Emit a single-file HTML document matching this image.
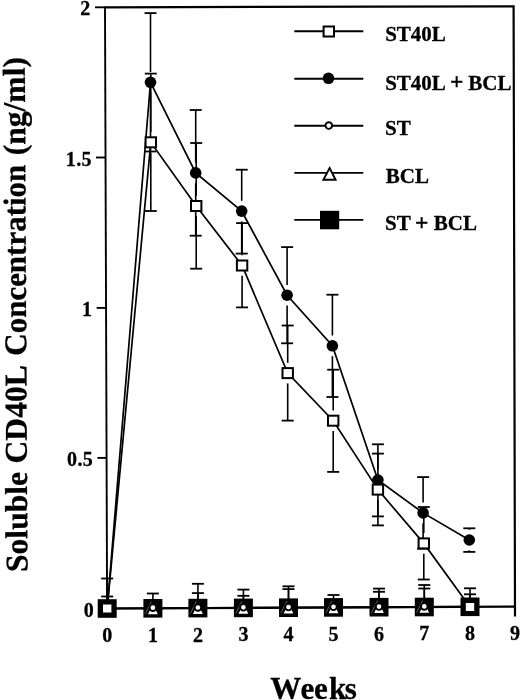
<!DOCTYPE html>
<html><head><meta charset="utf-8"><style>
html,body{margin:0;padding:0;background:#fff;width:520px;height:700px;overflow:hidden}
svg{display:block;will-change:transform}
text{font-family:"Liberation Serif",serif;font-weight:bold;stroke:#000;stroke-width:0.3px}
</style></head><body>
<svg width="520" height="700" viewBox="0 0 520 700">
<rect width="520" height="700" fill="#fff"/>
<path d="M104.6 7.3 L513.6 6.3 L515.0 616.5" fill="none" stroke="#000" stroke-width="2.2"/>
<line x1="105.0" y1="6.4" x2="107.1" y2="609.5" stroke="#000" stroke-width="1.9"/>
<line x1="107.1" y1="608.5" x2="515.0" y2="606.6" stroke="#000" stroke-width="2.2"/>
<line x1="95.0" y1="7.3" x2="104.7" y2="7.3" stroke="#000" stroke-width="1.9"/>
<line x1="96.0" y1="157.5" x2="105.5" y2="157.5" stroke="#000" stroke-width="1.9"/>
<line x1="96.7" y1="307.9" x2="106.2" y2="307.9" stroke="#000" stroke-width="1.9"/>
<line x1="97.4" y1="457.9" x2="106.8" y2="457.9" stroke="#000" stroke-width="1.9"/>
<text x="90.2" y="14.8" font-family="Liberation Serif" font-weight="bold" font-size="20" text-anchor="end">2</text>
<text x="92.0" y="165.8" font-family="Liberation Serif" font-weight="bold" font-size="20" text-anchor="end" letter-spacing="0.4">1.5</text>
<text x="92.0" y="316.0" font-family="Liberation Serif" font-weight="bold" font-size="20" text-anchor="end">1</text>
<text x="93.2" y="466.0" font-family="Liberation Serif" font-weight="bold" font-size="20" text-anchor="end" letter-spacing="0.4">0.5</text>
<text x="93.8" y="616.8" font-family="Liberation Serif" font-weight="bold" font-size="20" text-anchor="end">0</text>
<text x="107.3" y="642.20" font-family="Liberation Serif" font-weight="bold" font-size="20" text-anchor="middle">0</text>
<text x="153.0" y="641.93" font-family="Liberation Serif" font-weight="bold" font-size="20" text-anchor="middle">1</text>
<text x="198.0" y="641.67" font-family="Liberation Serif" font-weight="bold" font-size="20" text-anchor="middle">2</text>
<text x="243.4" y="641.41" font-family="Liberation Serif" font-weight="bold" font-size="20" text-anchor="middle">3</text>
<text x="288.5" y="641.15" font-family="Liberation Serif" font-weight="bold" font-size="20" text-anchor="middle">4</text>
<text x="333.5" y="640.89" font-family="Liberation Serif" font-weight="bold" font-size="20" text-anchor="middle">5</text>
<text x="379.0" y="640.62" font-family="Liberation Serif" font-weight="bold" font-size="20" text-anchor="middle">6</text>
<text x="424.3" y="640.36" font-family="Liberation Serif" font-weight="bold" font-size="20" text-anchor="middle">7</text>
<text x="470.0" y="640.09" font-family="Liberation Serif" font-weight="bold" font-size="20" text-anchor="middle">8</text>
<text x="515.0" y="639.83" font-family="Liberation Serif" font-weight="bold" font-size="20" text-anchor="middle">9</text>
<text x="270.2 300.6 314.1 329.0 344.8" y="699" font-family="Liberation Serif" font-weight="bold" font-size="31">Weeks</text>
<g transform="translate(27.4,571) rotate(-90.3)">
<text x="-1.0" y="0" font-family="Liberation Serif" font-weight="bold" font-size="31.6">Soluble</text>
<text x="107.5" y="0" font-family="Liberation Serif" font-weight="bold" font-size="31.6">CD40L</text>
<text x="215.3" y="0" font-family="Liberation Serif" font-weight="bold" font-size="31.6" textLength="191.0" lengthAdjust="spacingAndGlyphs">Concentration</text>
<text x="415.7" y="0" font-family="Liberation Serif" font-weight="bold" font-size="31.6">(ng/ml)</text>
</g>
<line x1="107.2" y1="578.5" x2="107.2" y2="608.5" stroke="#000" stroke-width="1.6"/>
<line x1="101.2" y1="578.5" x2="113.2" y2="578.5" stroke="#000" stroke-width="1.8"/>
<line x1="107.2" y1="596.5" x2="107.2" y2="608.5" stroke="#000" stroke-width="1.6"/>
<line x1="101.2" y1="596.5" x2="113.2" y2="596.5" stroke="#000" stroke-width="1.8"/>
<line x1="152.9" y1="593.5" x2="152.9" y2="608.3" stroke="#000" stroke-width="1.6"/>
<line x1="146.9" y1="593.5" x2="158.9" y2="593.5" stroke="#000" stroke-width="1.8"/>
<line x1="197.9" y1="583.8" x2="197.9" y2="608.1" stroke="#000" stroke-width="1.6"/>
<line x1="191.9" y1="583.8" x2="203.9" y2="583.8" stroke="#000" stroke-width="1.8"/>
<line x1="197.9" y1="593.1" x2="197.9" y2="608.1" stroke="#000" stroke-width="1.6"/>
<line x1="191.9" y1="593.1" x2="203.9" y2="593.1" stroke="#000" stroke-width="1.8"/>
<line x1="243.4" y1="589.6" x2="243.4" y2="607.9" stroke="#000" stroke-width="1.6"/>
<line x1="237.4" y1="589.6" x2="249.4" y2="589.6" stroke="#000" stroke-width="1.8"/>
<line x1="243.4" y1="595.8" x2="243.4" y2="607.9" stroke="#000" stroke-width="1.6"/>
<line x1="237.4" y1="595.8" x2="249.4" y2="595.8" stroke="#000" stroke-width="1.8"/>
<line x1="288.5" y1="586.3" x2="288.5" y2="607.7" stroke="#000" stroke-width="1.6"/>
<line x1="282.5" y1="586.3" x2="294.5" y2="586.3" stroke="#000" stroke-width="1.8"/>
<line x1="288.5" y1="589.1" x2="288.5" y2="607.7" stroke="#000" stroke-width="1.6"/>
<line x1="282.5" y1="589.1" x2="294.5" y2="589.1" stroke="#000" stroke-width="1.8"/>
<line x1="333.5" y1="595.0" x2="333.5" y2="607.4" stroke="#000" stroke-width="1.6"/>
<line x1="327.5" y1="595.0" x2="339.5" y2="595.0" stroke="#000" stroke-width="1.8"/>
<line x1="379.0" y1="588.6" x2="379.0" y2="607.2" stroke="#000" stroke-width="1.6"/>
<line x1="373.0" y1="588.6" x2="385.0" y2="588.6" stroke="#000" stroke-width="1.8"/>
<line x1="379.0" y1="591.8" x2="379.0" y2="607.2" stroke="#000" stroke-width="1.6"/>
<line x1="373.0" y1="591.8" x2="385.0" y2="591.8" stroke="#000" stroke-width="1.8"/>
<line x1="424.3" y1="585.0" x2="424.3" y2="607.0" stroke="#000" stroke-width="1.6"/>
<line x1="418.3" y1="585.0" x2="430.3" y2="585.0" stroke="#000" stroke-width="1.8"/>
<line x1="424.3" y1="588.5" x2="424.3" y2="607.0" stroke="#000" stroke-width="1.6"/>
<line x1="418.3" y1="588.5" x2="430.3" y2="588.5" stroke="#000" stroke-width="1.8"/>
<line x1="470.0" y1="588.3" x2="470.0" y2="606.8" stroke="#000" stroke-width="1.6"/>
<line x1="464.0" y1="588.3" x2="476.0" y2="588.3" stroke="#000" stroke-width="1.8"/>
<line x1="470.0" y1="594.3" x2="470.0" y2="606.8" stroke="#000" stroke-width="1.6"/>
<line x1="464.0" y1="594.3" x2="476.0" y2="594.3" stroke="#000" stroke-width="1.8"/>
<line x1="107.2" y1="608.5" x2="470.0" y2="606.8" stroke="#000" stroke-width="2.0"/>
<rect x="97.7" y="599.2" width="19" height="18.6" fill="#000"/>
<rect x="143.4" y="599.0" width="19" height="18.6" fill="#000"/>
<rect x="188.4" y="598.8" width="19" height="18.6" fill="#000"/>
<rect x="233.9" y="598.6" width="19" height="18.6" fill="#000"/>
<rect x="279.0" y="598.4" width="19" height="18.6" fill="#000"/>
<rect x="324.0" y="598.1" width="19" height="18.6" fill="#000"/>
<rect x="369.5" y="597.9" width="19" height="18.6" fill="#000"/>
<rect x="414.8" y="597.7" width="19" height="18.6" fill="#000"/>
<rect x="460.5" y="597.5" width="19" height="18.6" fill="#000"/>
<path d="M152.9 602.0 L159.3 615.1 L146.5 615.1 Z" fill="#fff" stroke="#000" stroke-width="1.9"/>
<path d="M197.9 601.8 L204.3 614.9 L191.5 614.9 Z" fill="#fff" stroke="#000" stroke-width="1.9"/>
<path d="M243.4 601.6 L249.8 614.7 L237.0 614.7 Z" fill="#fff" stroke="#000" stroke-width="1.9"/>
<path d="M288.5 601.4 L294.9 614.5 L282.1 614.5 Z" fill="#fff" stroke="#000" stroke-width="1.9"/>
<path d="M333.5 601.1 L339.9 614.2 L327.1 614.2 Z" fill="#fff" stroke="#000" stroke-width="1.9"/>
<path d="M379.0 600.9 L385.4 614.0 L372.6 614.0 Z" fill="#fff" stroke="#000" stroke-width="1.9"/>
<path d="M424.3 600.7 L430.7 613.8 L417.9 613.8 Z" fill="#fff" stroke="#000" stroke-width="1.9"/>
<line x1="145.3" y1="613.8" x2="151.3" y2="601.7" stroke="#fff" stroke-width="0.7" stroke-opacity="0.55"/>
<line x1="190.3" y1="613.6" x2="196.3" y2="601.5" stroke="#fff" stroke-width="0.7" stroke-opacity="0.55"/>
<line x1="235.8" y1="613.4" x2="241.8" y2="601.3" stroke="#fff" stroke-width="0.7" stroke-opacity="0.55"/>
<line x1="280.9" y1="613.2" x2="286.9" y2="601.1" stroke="#fff" stroke-width="0.7" stroke-opacity="0.55"/>
<line x1="325.9" y1="612.9" x2="331.9" y2="600.8" stroke="#fff" stroke-width="0.7" stroke-opacity="0.55"/>
<line x1="371.4" y1="612.7" x2="377.4" y2="600.6" stroke="#fff" stroke-width="0.7" stroke-opacity="0.55"/>
<line x1="416.7" y1="612.5" x2="422.7" y2="600.4" stroke="#fff" stroke-width="0.7" stroke-opacity="0.55"/>
<circle cx="152.9" cy="607.7" r="3.3" fill="#fff" stroke="#000" stroke-width="1.9"/>
<circle cx="197.9" cy="607.5" r="3.3" fill="#fff" stroke="#000" stroke-width="1.9"/>
<circle cx="243.4" cy="607.3" r="3.3" fill="#fff" stroke="#000" stroke-width="1.9"/>
<circle cx="288.5" cy="607.1" r="3.3" fill="#fff" stroke="#000" stroke-width="1.9"/>
<circle cx="333.5" cy="606.8" r="3.3" fill="#fff" stroke="#000" stroke-width="1.9"/>
<circle cx="379.0" cy="606.6" r="3.3" fill="#fff" stroke="#000" stroke-width="1.9"/>
<circle cx="424.3" cy="606.4" r="3.3" fill="#fff" stroke="#000" stroke-width="1.9"/>
<line x1="150.5" y1="13.1" x2="150.5" y2="72.0" stroke="#000" stroke-width="1.6"/>
<line x1="150.5" y1="92.6" x2="150.5" y2="151.5" stroke="#000" stroke-width="1.6"/>
<line x1="144.5" y1="13.1" x2="156.5" y2="13.1" stroke="#000" stroke-width="1.8"/>
<line x1="144.5" y1="151.5" x2="156.5" y2="151.5" stroke="#000" stroke-width="1.8"/>
<line x1="195.7" y1="110.0" x2="195.7" y2="162.6" stroke="#000" stroke-width="1.6"/>
<line x1="195.7" y1="183.2" x2="195.7" y2="235.7" stroke="#000" stroke-width="1.6"/>
<line x1="189.7" y1="110.0" x2="201.7" y2="110.0" stroke="#000" stroke-width="1.8"/>
<line x1="189.7" y1="235.7" x2="201.7" y2="235.7" stroke="#000" stroke-width="1.8"/>
<line x1="241.7" y1="169.7" x2="241.7" y2="200.8" stroke="#000" stroke-width="1.6"/>
<line x1="241.7" y1="221.4" x2="241.7" y2="253.6" stroke="#000" stroke-width="1.6"/>
<line x1="235.7" y1="169.7" x2="247.7" y2="169.7" stroke="#000" stroke-width="1.8"/>
<line x1="235.7" y1="253.6" x2="247.7" y2="253.6" stroke="#000" stroke-width="1.8"/>
<line x1="287.1" y1="247.1" x2="287.1" y2="284.9" stroke="#000" stroke-width="1.6"/>
<line x1="287.1" y1="305.5" x2="287.1" y2="343.3" stroke="#000" stroke-width="1.6"/>
<line x1="281.1" y1="247.1" x2="293.1" y2="247.1" stroke="#000" stroke-width="1.8"/>
<line x1="281.1" y1="343.3" x2="293.1" y2="343.3" stroke="#000" stroke-width="1.8"/>
<line x1="332.4" y1="294.7" x2="332.4" y2="335.5" stroke="#000" stroke-width="1.6"/>
<line x1="332.4" y1="356.1" x2="332.4" y2="397.0" stroke="#000" stroke-width="1.6"/>
<line x1="326.4" y1="294.7" x2="338.4" y2="294.7" stroke="#000" stroke-width="1.8"/>
<line x1="326.4" y1="397.0" x2="338.4" y2="397.0" stroke="#000" stroke-width="1.8"/>
<line x1="377.9" y1="444.3" x2="377.9" y2="469.7" stroke="#000" stroke-width="1.6"/>
<line x1="377.9" y1="490.3" x2="377.9" y2="516.4" stroke="#000" stroke-width="1.6"/>
<line x1="371.9" y1="444.3" x2="383.9" y2="444.3" stroke="#000" stroke-width="1.8"/>
<line x1="371.9" y1="516.4" x2="383.9" y2="516.4" stroke="#000" stroke-width="1.8"/>
<line x1="423.1" y1="477.1" x2="423.1" y2="502.6" stroke="#000" stroke-width="1.6"/>
<line x1="423.1" y1="523.2" x2="423.1" y2="548.7" stroke="#000" stroke-width="1.6"/>
<line x1="417.1" y1="477.1" x2="429.1" y2="477.1" stroke="#000" stroke-width="1.8"/>
<line x1="417.1" y1="548.7" x2="429.1" y2="548.7" stroke="#000" stroke-width="1.8"/>
<line x1="469.3" y1="528.3" x2="469.3" y2="529.7" stroke="#000" stroke-width="1.6"/>
<line x1="469.3" y1="550.3" x2="469.3" y2="551.9" stroke="#000" stroke-width="1.6"/>
<line x1="463.3" y1="528.3" x2="475.3" y2="528.3" stroke="#000" stroke-width="1.8"/>
<line x1="463.3" y1="551.9" x2="475.3" y2="551.9" stroke="#000" stroke-width="1.8"/>
<polyline points="107.2,608.5 150.5,82.3 195.7,172.9 241.7,211.1 287.1,295.2 332.4,345.8 377.9,480.0 423.1,512.9 469.3,540.0" fill="none" stroke="#000" stroke-width="1.7"/>
<circle cx="150.5" cy="82.3" r="5.8" fill="#000"/>
<circle cx="195.7" cy="172.9" r="5.8" fill="#000"/>
<circle cx="241.7" cy="211.1" r="5.8" fill="#000"/>
<circle cx="287.1" cy="295.2" r="5.8" fill="#000"/>
<circle cx="332.4" cy="345.8" r="5.8" fill="#000"/>
<circle cx="377.9" cy="480.0" r="5.8" fill="#000"/>
<circle cx="423.1" cy="512.9" r="5.8" fill="#000"/>
<circle cx="469.3" cy="540.0" r="5.8" fill="#000"/>
<line x1="150.8" y1="73.6" x2="150.8" y2="132.0" stroke="#000" stroke-width="1.6"/>
<line x1="150.8" y1="152.6" x2="150.8" y2="211.0" stroke="#000" stroke-width="1.6"/>
<line x1="144.8" y1="73.6" x2="156.8" y2="73.6" stroke="#000" stroke-width="1.8"/>
<line x1="144.8" y1="211.0" x2="156.8" y2="211.0" stroke="#000" stroke-width="1.8"/>
<line x1="196.2" y1="143.0" x2="196.2" y2="195.7" stroke="#000" stroke-width="1.6"/>
<line x1="196.2" y1="216.3" x2="196.2" y2="268.7" stroke="#000" stroke-width="1.6"/>
<line x1="190.2" y1="143.0" x2="202.2" y2="143.0" stroke="#000" stroke-width="1.8"/>
<line x1="190.2" y1="268.7" x2="202.2" y2="268.7" stroke="#000" stroke-width="1.8"/>
<line x1="242.1" y1="223.1" x2="242.1" y2="255.2" stroke="#000" stroke-width="1.6"/>
<line x1="242.1" y1="275.8" x2="242.1" y2="307.4" stroke="#000" stroke-width="1.6"/>
<line x1="236.1" y1="223.1" x2="248.1" y2="223.1" stroke="#000" stroke-width="1.8"/>
<line x1="236.1" y1="307.4" x2="248.1" y2="307.4" stroke="#000" stroke-width="1.8"/>
<line x1="287.7" y1="325.5" x2="287.7" y2="362.8" stroke="#000" stroke-width="1.6"/>
<line x1="287.7" y1="383.4" x2="287.7" y2="420.6" stroke="#000" stroke-width="1.6"/>
<line x1="281.7" y1="325.5" x2="293.7" y2="325.5" stroke="#000" stroke-width="1.8"/>
<line x1="281.7" y1="420.6" x2="293.7" y2="420.6" stroke="#000" stroke-width="1.8"/>
<line x1="333.2" y1="369.7" x2="333.2" y2="410.4" stroke="#000" stroke-width="1.6"/>
<line x1="333.2" y1="431.0" x2="333.2" y2="471.9" stroke="#000" stroke-width="1.6"/>
<line x1="327.2" y1="369.7" x2="339.2" y2="369.7" stroke="#000" stroke-width="1.8"/>
<line x1="327.2" y1="471.9" x2="339.2" y2="471.9" stroke="#000" stroke-width="1.8"/>
<line x1="377.9" y1="453.6" x2="377.9" y2="479.3" stroke="#000" stroke-width="1.6"/>
<line x1="377.9" y1="499.9" x2="377.9" y2="525.4" stroke="#000" stroke-width="1.6"/>
<line x1="371.9" y1="453.6" x2="383.9" y2="453.6" stroke="#000" stroke-width="1.8"/>
<line x1="371.9" y1="525.4" x2="383.9" y2="525.4" stroke="#000" stroke-width="1.8"/>
<line x1="423.8" y1="507.0" x2="423.8" y2="533.1" stroke="#000" stroke-width="1.6"/>
<line x1="423.8" y1="553.7" x2="423.8" y2="579.5" stroke="#000" stroke-width="1.6"/>
<line x1="417.8" y1="507.0" x2="429.8" y2="507.0" stroke="#000" stroke-width="1.8"/>
<line x1="417.8" y1="579.5" x2="429.8" y2="579.5" stroke="#000" stroke-width="1.8"/>
<polyline points="107.2,608.5 150.8,142.3 196.2,206.0 242.1,265.5 287.7,373.1 333.2,420.7 377.9,489.6 423.8,543.4 470.0,607.0" fill="none" stroke="#000" stroke-width="1.7"/>
<rect x="102.0" y="603.5" width="10.4" height="10" fill="#fff" stroke="#000" stroke-width="2"/>
<rect x="145.6" y="137.3" width="10.4" height="10" fill="#fff" stroke="#000" stroke-width="2"/>
<rect x="191.0" y="201.0" width="10.4" height="10" fill="#fff" stroke="#000" stroke-width="2"/>
<rect x="236.9" y="260.5" width="10.4" height="10" fill="#fff" stroke="#000" stroke-width="2"/>
<rect x="282.5" y="368.1" width="10.4" height="10" fill="#fff" stroke="#000" stroke-width="2"/>
<rect x="328.0" y="415.7" width="10.4" height="10" fill="#fff" stroke="#000" stroke-width="2"/>
<rect x="372.7" y="484.6" width="10.4" height="10" fill="#fff" stroke="#000" stroke-width="2"/>
<rect x="418.6" y="538.4" width="10.4" height="10" fill="#fff" stroke="#000" stroke-width="2"/>
<rect x="464.8" y="602.0" width="10.4" height="10" fill="#fff" stroke="#000" stroke-width="2"/>
<line x1="294.3" y1="31.2" x2="363.3" y2="31.2" stroke="#000" stroke-width="1.9"/>
<line x1="294.3" y1="78.8" x2="363.3" y2="78.8" stroke="#000" stroke-width="1.9"/>
<line x1="294.3" y1="125.8" x2="363.3" y2="125.8" stroke="#000" stroke-width="1.9"/>
<line x1="294.3" y1="172.9" x2="363.3" y2="172.9" stroke="#000" stroke-width="1.9"/>
<line x1="294.3" y1="219.9" x2="363.3" y2="219.9" stroke="#000" stroke-width="1.9"/>
<rect x="323.6" y="26.5" width="10.4" height="10" fill="#fff" stroke="#000" stroke-width="2"/>
<circle cx="328.5" cy="78.3" r="5.8" fill="#000"/>
<circle cx="328.8" cy="125.6" r="3.3" fill="#fff" stroke="#000" stroke-width="1.9"/>
<path d="M329.6 168.0 L335.6 179.8 L323.4 179.8 Z" fill="#fff" stroke="#000" stroke-width="1.9"/>
<rect x="320.0" y="210.8" width="19.2" height="18.5" fill="#000"/>
<text x="385.2" y="40.7" font-family="Liberation Serif" font-weight="bold" font-size="21.0" text-anchor="start">ST40L</text>
<text x="385.2" y="89.5" font-family="Liberation Serif" font-weight="bold" font-size="21.0" text-anchor="start">ST40L</text>
<text x="456.8" y="88.6" font-family="Liberation Serif" font-weight="bold" font-size="23.5" text-anchor="middle">+</text>
<text x="468.3" y="89.5" font-family="Liberation Serif" font-weight="bold" font-size="21.0" text-anchor="start">BCL</text>
<text x="385.0" y="135.4" font-family="Liberation Serif" font-weight="bold" font-size="21.0" text-anchor="start">ST</text>
<text x="385.8" y="183.2" font-family="Liberation Serif" font-weight="bold" font-size="21.0" text-anchor="start">BCL</text>
<text x="385.0" y="229.5" font-family="Liberation Serif" font-weight="bold" font-size="21.0" text-anchor="start">ST</text>
<text x="421.7" y="229.7" font-family="Liberation Serif" font-weight="bold" font-size="23.5" text-anchor="middle">+</text>
<text x="433.8" y="229.7" font-family="Liberation Serif" font-weight="bold" font-size="21.0" text-anchor="start">BCL</text>
</svg>
</body></html>
